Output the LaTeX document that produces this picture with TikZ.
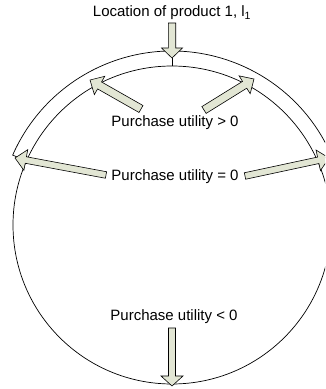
\documentclass[tikz,border=0pt]{standalone}
\usepackage{fontspec}
\setmainfont{Liberation Sans}
\usetikzlibrary{calc}
\definecolor{arrowfill}{RGB}{226,230,212}
\tikzset{
  ring/.style={draw=black, line width=0.7pt},
  blockarrow/.style={draw=black, fill=arrowfill, line width=0.6pt, line join=miter},
  caption/.style={anchor=base, inner sep=0pt, font=\fontsize{15}{18}\selectfont},
}
% half width of the shaft, half width of the head, length of the head
\newcommand\ahShaft{4}
\newcommand\ahHead{10.5}
\newcommand\ahLen{11}
% block arrow from a tail coordinate to a tip coordinate
\newcommand\blockarrow[2]{%
  \coordinate (bh) at ($(#2)!\ahLen pt!(#1)$);
  \draw[blockarrow]
    ($(#1)!\ahShaft pt!90:(#2)$) -- ($(bh)!\ahShaft pt!90:(#2)$) --
    ($(bh)!\ahHead pt!90:(#2)$) -- (#2) --
    ($(bh)!\ahHead pt!-90:(#2)$) -- ($(bh)!\ahShaft pt!-90:(#2)$) --
    ($(#1)!\ahShaft pt!-90:(#2)$) -- cycle;}
\begin{document}
\begin{tikzpicture}[x=1pt, y=1pt]
  \useasboundingbox (0,0) rectangle (325,389);
  \clip (0,0) rectangle (325,389);

  % market circle and the band of positive utility
  \coordinate (c) at (172,164);
  \draw[ring] (c) circle (159);
  \draw[ring] ($(c)+(23.7:159)$) -- ($(c)+(23.7:174)$)
    arc[start angle=23.7, end angle=156.3, radius=174]
    -- ($(c)+(156.3:159)$);

  % labels
  \node[caption] (loc) at (172,372) {Location of product 1, l\textsubscript{1}};
  \node[caption] (pos) at (175,262) {Purchase utility > 0};
  \node[caption] (zero) at (175,208) {Purchase utility = 0};
  \node[caption] (neg) at (174,68) {Purchase utility < 0};

  % arrow end points
  \coordinate (ulT) at (141,280);  \coordinate (ulH) at (90,309);
  \coordinate (urT) at (204,279);  \coordinate (urH) at (254,310);
  \coordinate (mlT) at (106,214);  \coordinate (mlH) at (15,231);
  \coordinate (mrT) at (245,213);  \coordinate (mrH) at (329,231);
  \coordinate (tpT) at (172,366);  \coordinate (tpH) at (172,331);
  \coordinate (tpS) at (172,323);
  \coordinate (btT) at (172,61);   \coordinate (btH) at (172,3);

  \draw[line width=0.6pt] (tpH) -- (tpS);
  \blockarrow{ulT}{ulH}
  \blockarrow{urT}{urH}
  \renewcommand\ahShaft{3.3}
  \blockarrow{mlT}{mlH}
  \blockarrow{mrT}{mrH}
  \renewcommand\ahShaft{3.7}
  \renewcommand\ahLen{10}
  \blockarrow{tpT}{tpH}
  \renewcommand\ahShaft{3.5}
  \renewcommand\ahHead{11}
  \blockarrow{btT}{btH}
\end{tikzpicture}
\end{document}
